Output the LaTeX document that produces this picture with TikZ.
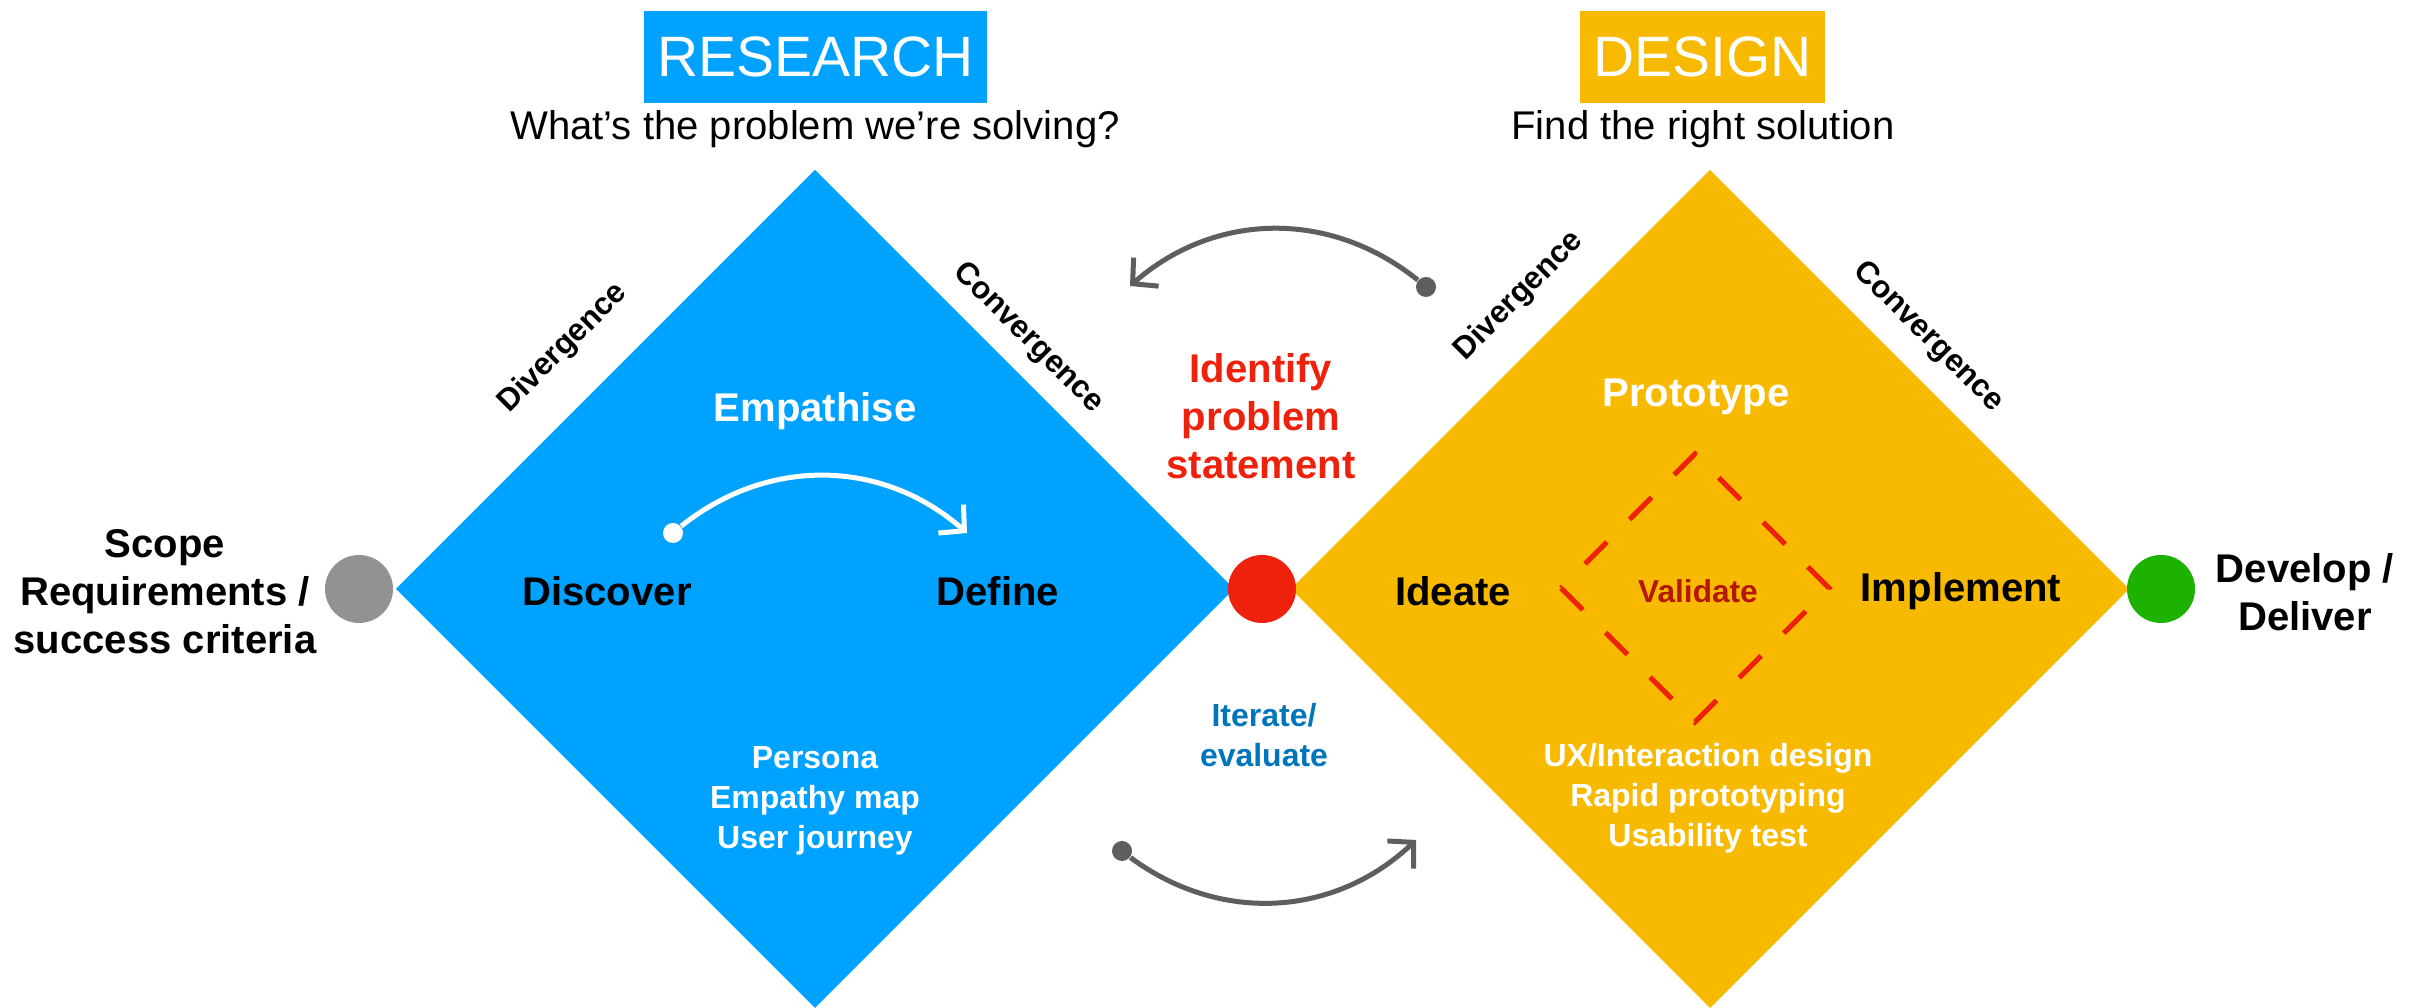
\documentclass[tikz,border=0pt]{standalone}
\usepackage{fontspec}
\setmainfont{Liberation Sans}
\usepackage{tikz}
\usetikzlibrary{arrows.meta}
\definecolor{research}{HTML}{00A2FF}
\definecolor{design}{HTML}{F8BA00}
\definecolor{keyred}{HTML}{EE220C}
\definecolor{keygreen}{HTML}{1DB100}
\definecolor{keygray}{HTML}{929292}
\definecolor{arrowgray}{HTML}{5E5E5E}
\definecolor{iterblue}{HTML}{0076BA}
\definecolor{validred}{HTML}{B51700}

\begin{document}
\begin{tikzpicture}[
  headbox/.style={minimum width=#1, minimum height=0.92cm, inner sep=0, text=white, font=\fontsize{16.2}{19}\selectfont},
  question/.style={font=\fontsize{11.4}{13}\selectfont},
  stage/.style={font=\bfseries\fontsize{11.4}{13.6}\selectfont, align=center},
  toollist/.style={font=\bfseries\fontsize{9.1}{11.4}\selectfont, align=center, text=white},
  phase/.style={font=\bfseries\fontsize{8.9}{10}\selectfont},
  milestone/.style={circle, minimum size=0.68cm, inner sep=0},
  arrowdot/.style={circle, minimum size=0.2cm, inner sep=0},
  iterarrow/.style={line width=0.05cm, -{Straight Barb[length=0.18cm, width=0.38cm]}},
]
\useasboundingbox (0,0) rectangle (24.24,10.08);

% Diamonds
\fill[research] (3.96,4.19) -- (8.15,8.38) -- (12.34,4.19) -- (8.15,0) -- cycle;
\fill[design] (12.91,4.19) -- (17.10,8.38) -- (21.29,4.19) -- (17.10,0) -- cycle;
\draw[keyred, line width=0.05cm, dash pattern=on 0.31cm off 0.32cm]
  (15.61,4.20) -- (16.95,2.86) -- (18.29,4.20) -- (16.95,5.54) -- cycle;

% Headers
\node[headbox=3.43cm, fill=research] (research) at (8.155,9.51) {RESEARCH};
\node[headbox=2.45cm, fill=design] (design) at (17.025,9.51) {DESIGN};
\node[question] (why) at (8.15,8.79) {What’s the problem we’re solving?};
\node[question] (how) at (17.03,8.79) {Find the right solution};

% Milestones
\node[milestone, fill=keygray] (scope) at (3.59,4.19) {};
\node[milestone, fill=keyred] (problem) at (12.62,4.19) {};
\node[milestone, fill=keygreen] (deliver) at (21.61,4.19) {};

\node[stage] (scopetxt) at (1.65,4.16) {Scope\\Requirements /\\success criteria};
\node[stage] (delivertxt) at (23.05,4.16) {Develop /\\Deliver};
\node[stage, text=keyred] (statement) at (12.61,5.92) {Identify\\problem\\statement};

% Stages
\node[stage] (discover) at (6.07,4.17) {Discover};
\node[stage] (define) at (9.98,4.17) {Define};
\node[stage] (ideate) at (14.53,4.17) {Ideate};
\node[stage] (implement) at (19.61,4.17) {Implement};
\node[stage, text=white] (empathise) at (8.15,5.97) {Empathise};
\node[stage, text=white] (prototype) at (16.96,6.11) {Prototype};
\node[font=\bfseries\fontsize{9}{11}\selectfont, text=validred] (validate) at (16.98,4.17) {Validate};

% Divergence / convergence
\node[phase, rotate=45] (div1) at (5.63,6.60) {Divergence};
\node[phase, rotate=-45] (conv1) at (10.28,6.70) {Convergence};
\node[phase, rotate=45] (div2) at (15.19,7.12) {Divergence};
\node[phase, rotate=-45] (conv2) at (19.28,6.71) {Convergence};

% Methods
\node[toollist] (researchtools) at (8.15,2.07) {Persona\\Empathy map\\User journey};
\node[toollist] (designtools) at (17.08,2.10) {UX/Interaction design\\Rapid prototyping\\Usability test};
\node[toollist, text=iterblue] (iterate) at (12.64,2.73) {Iterate/\\evaluate};

% Arrows
\node[arrowdot, fill=white] (discdot) at (6.73,4.75) {};
\coordinate (defhead) at (9.67,4.75);
\draw[iterarrow, white] (discdot) to[bend left=40] (defhead);

\node[arrowdot, fill=arrowgray] (backdot) at (14.26,7.21) {};
\coordinate (backhead) at (11.30,7.22);
\draw[iterarrow, arrowgray] (backdot) to[bend right=40] (backhead);

\node[arrowdot, fill=arrowgray] (fwddot) at (11.22,1.57) {};
\coordinate (fwdhead) at (14.16,1.68);
\draw[iterarrow, arrowgray] (fwddot) to[bend right=40] (fwdhead);

\end{tikzpicture}
\end{document}
